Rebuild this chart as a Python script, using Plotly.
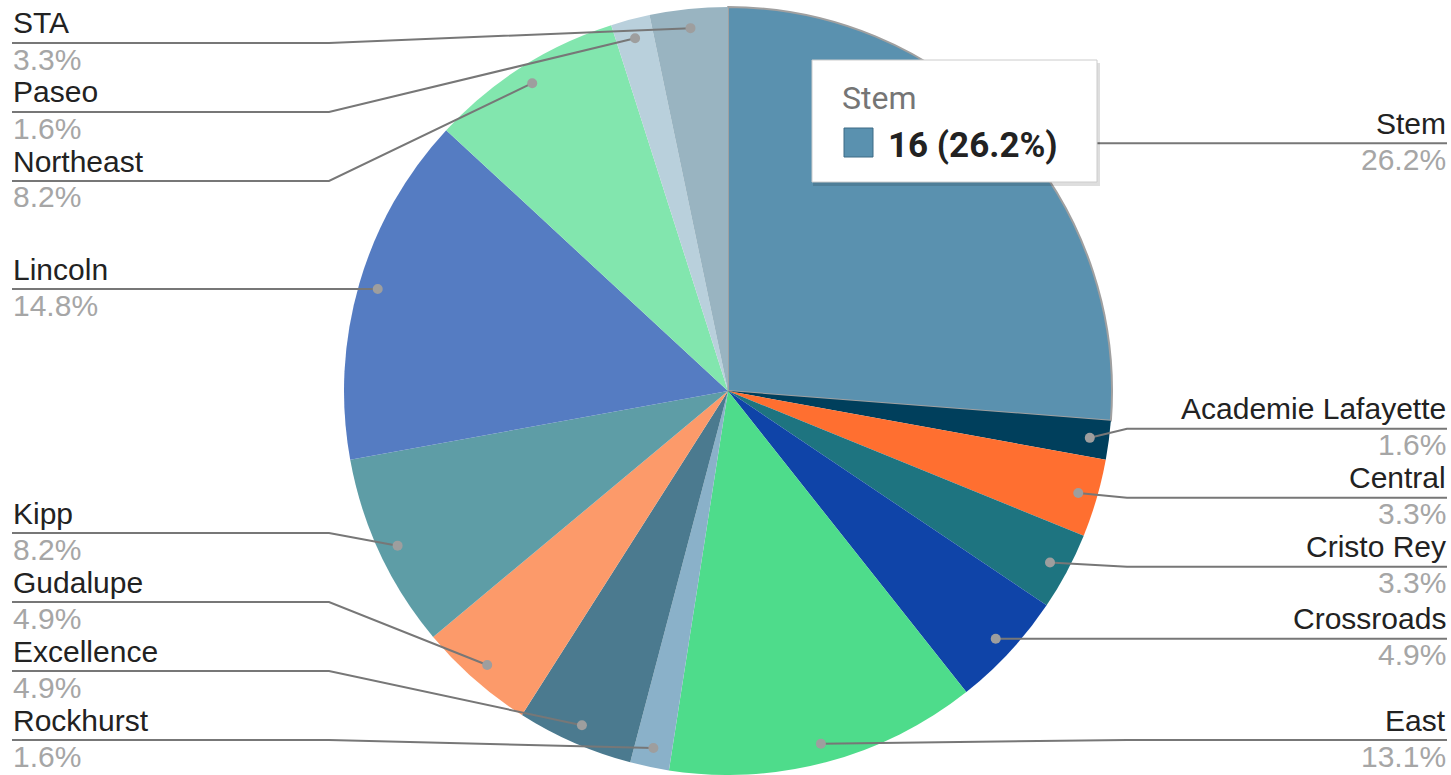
import math
import plotly.graph_objects as go

# ---- data ----
schools = ["Stem", "Academie Lafayette", "Central", "Cristo Rey", "Crossroads", "East",
           "Rockhurst", "Excellence", "Gudalupe", "Kipp", "Lincoln", "Northeast", "Paseo", "STA"]
counts = [16, 1, 2, 2, 3, 8, 1, 3, 3, 5, 9, 5, 1, 2]
colors = ["#5A91AF", "#003F5C", "#FF6F30", "#1E7480", "#0F44A8", "#4EDC8B",
          "#8AB1C9", "#4B7A8F", "#FC9A6A", "#5E9DA6", "#557CC2", "#82E6AE", "#B9D0DC", "#99B4C1"]
highlight = "Stem"

# ---- geometry (pixels) ----
W, H = 1451, 775
CX, CY, R = 728, 391, 384
DOT_R = 0.95 * R
BEND = 15
LEFT_X, RIGHT_X = 12, 1447
Y_LO, Y_HI, GAP = 43, 740, 69

def px(x):
    return x / W

def py(y):
    return 1 - y / H

total = sum(counts)
fig = go.Figure()
fig.add_trace(go.Pie(
    labels=schools, values=counts, sort=False, direction="clockwise", rotation=0,
    marker=dict(colors=colors,
                line=dict(color=["#A0A0A0" if s == highlight else "rgba(0,0,0,0)" for s in schools],
                          width=[2 if s == highlight else 0 for s in schools])),
    textinfo="none", hoverinfo="none", showlegend=False,
    domain=dict(x=[(CX - R) / W, (CX + R) / W], y=[max(0, 1 - (CY + R) / H), 1 - (CY - R) / H]),
))

# dot positions from slice mid-angles
dots = []
cum = 0
for v in counts:
    mid = (cum + v / 2) / total * 2 * math.pi
    cum += v
    dots.append((CX + DOT_R * math.sin(mid), CY - DOT_R * math.cos(mid)))

def place(items):
    clusters = []
    def clamp(s, n):
        return min(max(s, Y_LO), Y_HI - GAP * (n - 1))
    for d, i in items:
        clusters.append([[(d, i)], clamp(d, 1)])
        while len(clusters) > 1:
            prev, cur = clusters[-2], clusters[-1]
            if prev[1] + GAP * len(prev[0]) > cur[1]:
                merged = prev[0] + cur[0]
                mean = sum(dd - GAP * k for k, (dd, _) in enumerate(merged)) / len(merged)
                clusters[-2:] = [[merged, clamp(mean, len(merged))]]
            else:
                break
    out = {}
    for members, start in clusters:
        for k, (_, i) in enumerate(members):
            out[i] = start + GAP * k
    return out

left = sorted([(dots[i][1], i) for i in range(len(counts)) if dots[i][0] < CX])
right = sorted([(dots[i][1], i) for i in range(len(counts)) if dots[i][0] >= CX])
label_y = {}
label_y.update(place(left))
label_y.update(place(right))

shapes = []
annotations = []
FONT = "Liberation Sans, Arial, sans-serif"
for i, name in enumerate(schools):
    dx, dy = dots[i]
    ly = label_y[i]
    is_left = dx < CX
    if is_left:
        pts = [(LEFT_X, ly), (CX - R - BEND, ly), (dx, dy)]
        tx, anchor = LEFT_X, "left"
    else:
        pts = [(RIGHT_X, ly), (CX + R + BEND, ly), (dx, dy)]
        tx, anchor = RIGHT_X, "right"
    path = "M {} {} L {} {} L {} {}".format(*[c for p in pts for c in (px(p[0]), py(p[1]))])
    shapes.append(dict(type="path", path=path, xref="paper", yref="paper",
                       line=dict(color="#777777", width=2), layer="above"))
    shapes.append(dict(type="circle", xref="paper", yref="paper", xsizemode="pixel", ysizemode="pixel",
                       xanchor=px(dx), yanchor=py(dy), x0=-5, x1=5, y0=-5, y1=5,
                       fillcolor="#9E9E9E", line=dict(width=0), layer="above"))
    annotations.append(dict(x=px(tx), y=py(ly - 20), xref="paper", yref="paper", xanchor=anchor,
                            yanchor="middle", showarrow=False, text=name, borderpad=0,
                            font=dict(family=FONT, size=30, color="#222222")))
    annotations.append(dict(x=px(tx), y=py(ly + 16), xref="paper", yref="paper", xanchor=anchor,
                            yanchor="middle", showarrow=False, borderpad=0,
                            text="{:.1f}%".format(100 * counts[i] / total),
                            font=dict(family=FONT, size=30, color="#A6A6A6")))

# tooltip for highlighted slice
hi = schools.index(highlight)
TX0, TY0, TX1, TY1 = 812, 60, 1097, 182
shapes.append(dict(type="rect", xref="paper", yref="paper", x0=px(TX0 + 1), x1=px(TX1 + 3),
                   y0=py(TY0 + 3), y1=py(TY1 + 4), fillcolor="rgba(0,0,0,0.13)",
                   line=dict(width=0), layer="above"))
shapes.append(dict(type="rect", xref="paper", yref="paper", x0=px(TX0), x1=px(TX1),
                   y0=py(TY0), y1=py(TY1), fillcolor="white",
                   line=dict(color="#CCCCCC", width=1), layer="above"))
shapes.append(dict(type="rect", xref="paper", yref="paper", x0=px(844), x1=px(873),
                   y0=py(128), y1=py(157), fillcolor=colors[hi],
                   line=dict(color="#3D6A85", width=1), layer="above"))
annotations.append(dict(x=px(840), y=py(98), xref="paper", yref="paper", xanchor="left",
                        yanchor="middle", showarrow=False, text=highlight,
                        font=dict(family="Roboto, sans-serif", size=32, color="#757575")))
annotations.append(dict(x=px(886), y=py(146), xref="paper", yref="paper", xanchor="left",
                        yanchor="middle", showarrow=False,
                        text="<b>{} ({:.1f}%)</b>".format(counts[hi], 100 * counts[hi] / total),
                        font=dict(family="Roboto, sans-serif", size=35, color="#222222")))

fig.update_layout(width=W, height=H, margin=dict(l=0, r=0, t=0, b=0),
                  paper_bgcolor="white", plot_bgcolor="white",
                  shapes=shapes, annotations=annotations)

fig.write_html("out.html", config={"displayModeBar": False},
               post_script="document.body.style.margin='0';")
